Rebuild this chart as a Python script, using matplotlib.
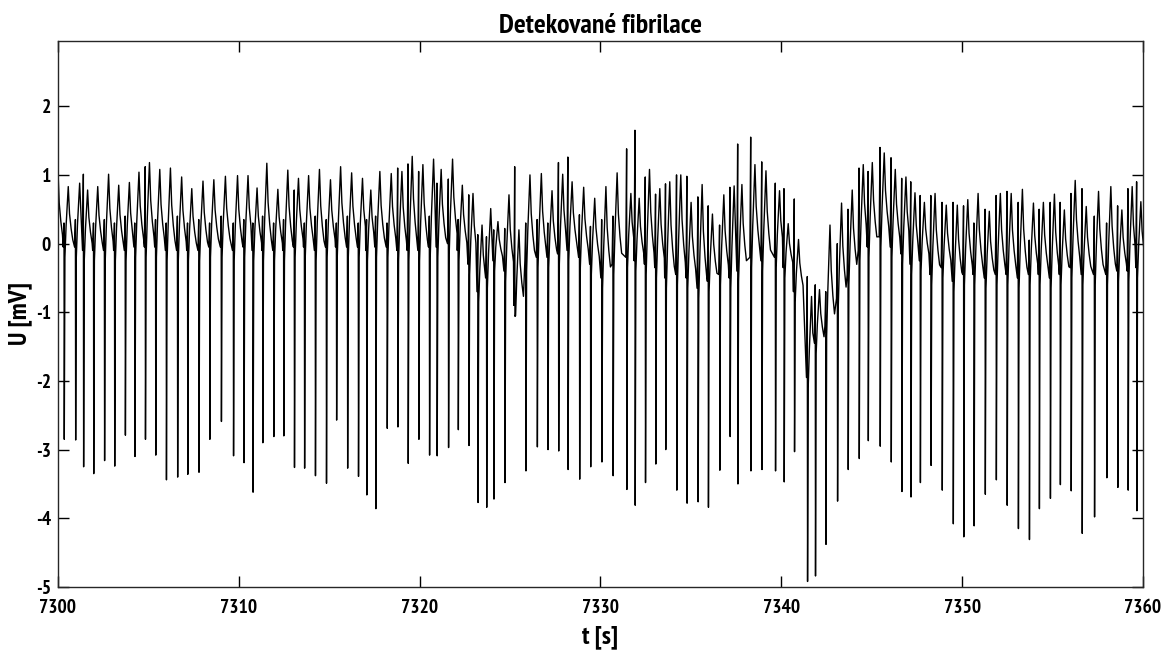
import numpy as np
import matplotlib
matplotlib.use("Agg")
import matplotlib.pyplot as plt
from matplotlib import font_manager as fm


def _is_bold(f):
    w = f.weight
    if isinstance(w, (int, float)):
        return w >= 600
    return str(w).lower() in ("bold", "semibold", "demibold", "heavy", "black",
                              "extra bold", "ultrabold")


def _is_narrow(f):
    return ("Narrow" in f.name or "Condensed" in f.name
            or str(f.stretch) in ("condensed", "semi-condensed", "extra-condensed"))


# MATLAB export uses a narrow bold face; take one if the machine has it
_cands = [f for f in fm.fontManager.ttflist if _is_narrow(f) and _is_bold(f)]
_cands.sort(key=lambda f: (0 if "Narrow" in f.name else 1, f.name))
if _cands:
    plt.rcParams["font.family"] = [_cands[0].name, "Liberation Sans", "DejaVu Sans"]
    FS_TICK, FS_TITLE, FS_LABEL = 14, 20, 18.5
else:
    plt.rcParams["font.family"] = ["Liberation Sans", "DejaVu Sans"]
    FS_TICK, FS_TITLE, FS_LABEL = 12.5, 15, 15.5
plt.rcParams["axes.unicode_minus"] = False

T0 = 7300.0

# beat data (one entry per QRS complex)
# time of S trough [s after 7300]
beat_t = [-0.22, 0.35, 0.98, 1.42, 1.98, 2.58, 3.14, 3.73, 4.26, 4.84,
          5.41, 6.00, 6.62, 7.18, 7.80, 8.40, 9.04, 9.71, 10.29, 10.79,
          11.33, 11.94, 12.49, 13.08, 13.64, 14.24, 14.85, 15.41, 16.02, 16.62,
          17.08, 17.58, 18.21, 18.80, 19.37, 19.96, 20.55, 20.97, 21.60, 22.14,
          22.73, 23.23, 23.71, 24.11, 24.72, 25.27, 25.88, 26.51, 27.10, 27.69,
          28.21, 28.85, 29.46, 30.08, 30.70, 31.46, 31.92, 32.49, 33.06, 33.61,
          34.22, 34.79, 35.40, 35.97, 36.60, 37.17, 37.60, 38.32, 38.93, 39.68,
          40.16, 40.73, 41.45, 41.89, 42.47, 43.11, 43.70, 44.31, 44.81, 45.47,
          46.08, 46.67, 47.17, 47.69, 48.28, 48.90, 49.51, 50.09, 50.66, 51.28,
          51.89, 52.49, 53.11, 53.72, 54.27, 54.88, 55.43, 56.03, 56.64, 57.32,
          58.00, 58.61, 59.18, 59.66]
# S trough [mV]
s_val = [-2.90, -2.85, -2.86, -3.25, -3.35, -3.16, -3.24, -2.79, -3.10, -2.85,
         -3.08, -3.44, -3.40, -3.36, -3.33, -2.85, -2.59, -3.09, -3.19, -3.62,
         -2.90, -2.81, -2.80, -3.26, -3.27, -3.38, -3.49, -2.57, -3.27, -3.39,
         -3.66, -3.86, -2.69, -2.67, -3.20, -2.85, -3.08, -3.09, -2.97, -2.71,
         -2.94, -3.77, -3.84, -3.72, -3.48, -1.06, -3.31, -2.96, -3.00, -3.02,
         -3.29, -3.43, -3.25, -3.18, -3.38, -3.58, -3.81, -3.48, -3.21, -3.00,
         -3.59, -3.78, -3.76, -3.84, -3.30, -2.81, -3.50, -3.31, -3.29, -3.31,
         -3.47, -3.03, -4.92, -4.84, -4.38, -3.75, -3.29, -3.13, -2.87, -2.95,
         -3.18, -3.61, -3.69, -3.48, -3.23, -3.59, -4.08, -4.27, -4.11, -3.65,
         -3.44, -3.81, -4.15, -4.31, -3.86, -3.71, -3.51, -3.60, -4.22, -3.98,
         -3.41, -3.55, -3.59, -3.89]
# wave peak following the complex [mV]
hump = [1.07, 0.83, 0.88, 0.78, 0.83, 1.01, 0.85, 0.89, 1.04, 1.18,
        1.08, 1.10, 0.97, 0.80, 0.91, 0.93, 0.98, 0.99, 0.99, 0.81,
        1.17, 0.79, 1.07, 0.95, 0.99, 1.08, 0.93, 1.12, 1.03, 0.95,
        0.78, 1.05, 1.02, 1.05, 1.27, 1.15, 1.23, 1.08, 1.23, 0.85,
        0.73, 0.27, 0.51, 0.32, 0.71, 0.20, 1.00, 1.02, 0.77, 1.01,
        0.90, 0.82, 0.66, 0.83, 1.03, 0.73, 0.66, 1.08, 0.80, 0.90,
        1.00, 0.60, 0.86, 0.43, 0.71, 0.84, 0.86, 1.15, 1.06, 0.77,
        0.29, 0.06, -0.77, -0.67, 0.27, 0.59, 0.78, 1.15, 1.18, 1.32,
        1.08, 0.97, 0.74, 0.60, 0.73, 0.56, 0.56, 0.64, 0.73, 0.47,
        0.73, 0.73, 0.79, 0.59, 0.60, 0.72, 0.49, 0.92, 0.54, 0.76,
        0.83, 0.49, 0.83, 0.61]
# baseline just before the complex [mV]
base = [0.00, -0.05, -0.05, -0.10, -0.10, -0.10, -0.10, -0.10, -0.05, -0.05,
        -0.05, -0.10, -0.10, -0.10, -0.10, -0.05, -0.05, -0.10, -0.05, -0.10,
        -0.10, -0.10, -0.10, -0.05, -0.05, -0.10, -0.05, -0.05, -0.05, -0.05,
        -0.10, -0.05, -0.05, -0.10, -0.10, -0.10, -0.05, -0.05, 0.00, -0.10,
        -0.30, -0.70, -0.50, -0.25, -0.40, -0.90, -0.25, -0.20, -0.20, -0.15,
        -0.10, -0.20, -0.30, -0.50, -0.30, -0.20, -0.25, -0.30, -0.35, -0.50,
        -0.45, -0.50, -0.65, -0.55, -0.45, -0.50, -0.40, -0.20, -0.25, -0.20,
        -0.35, -0.70, -1.95, -1.45, -1.20, -0.80, -0.45, -0.10, -0.05, 0.10,
        -0.05, -0.15, -0.30, -0.25, -0.45, -0.35, -0.55, -0.45, -0.45, -0.50,
        -0.45, -0.45, -0.50, -0.45, -0.45, -0.50, -0.45, -0.35, -0.45, -0.45,
        -0.45, -0.40, -0.40, -0.35]
# R spike right before the S trough [mV]
r_val = [0.30, 0.30, 0.35, 1.01, 0.30, 0.35, 0.30, 0.40, 0.30, 1.12,
         0.35, 0.30, 0.40, 0.30, 0.35, 0.30, 0.40, 0.30, 0.35, 0.30,
         0.40, 0.30, 0.35, 0.78, 0.30, 0.40, 0.35, 0.30, 0.40, 0.30,
         0.35, 0.40, 0.30, 1.10, 1.16, 1.05, 0.40, 0.88, 0.94, 0.35,
         0.71, 0.13, 0.10, 0.20, 0.22, 1.12, 0.30, 0.35, 0.30, 1.18,
         1.26, 0.42, 0.25, 0.35, 0.40, 1.38, 1.65, 0.97, 0.72, 0.87,
         1.00, 0.98, 0.68, 0.55, 0.27, 0.82, 1.45, 1.55, 1.19, 0.88,
         0.80, 0.65, -0.48, -0.60, -0.70, 0.00, 0.50, 1.10, 1.05, 1.40,
         1.25, 0.95, 0.90, 0.70, 0.70, 0.60, 0.60, 0.55, 0.30, 0.50,
         0.70, 0.76, 0.60, 0.05, 0.50, 0.60, 0.60, 0.73, 0.80, 0.40,
         0.30, 0.55, 0.80, 0.90]

# ── build the trace beat by beat ────────────────────────────────────────────
t_sig, u_sig = [], []
n = len(beat_t)
for i in range(n):
    t0 = T0 + beat_t[i]
    b, h = base[i], hump[i]
    t_end = T0 + beat_t[i + 1] - 0.06 if i + 1 < n else T0 + 60.5
    pts = [(t0 - 0.06, b), (t0 - 0.015, r_val[i]), (t0, s_val[i]),
           (t0 + 0.035, b - 0.15), (t0 + 0.10, b + 0.35 * (h - b)),
           (t0 + 0.22, h), (t0 + 0.29, b + 0.55 * (h - b)),
           (t0 + 0.38, b + 0.3 * (h - b)), (t0 + 0.47, b + 0.12 * (h - b))]
    for tt, uu in pts:
        if tt < t_end:
            t_sig.append(tt)
            u_sig.append(uu)

# ── figure ──────────────────────────────────────────────────────────────────
fig = plt.figure(figsize=(11.66, 6.59), dpi=100)
ax = fig.add_axes([0.0497, 0.1093, 0.9306, 0.8285])

ax.plot(t_sig, u_sig, color="black", linewidth=1.0)

ax.set_xlim(7300, 7360)
ax.set_ylim(-5, 2.95)
ax.set_xticks(np.arange(7300, 7361, 10))
ax.set_yticks(np.arange(-5, 3, 1))
ax.tick_params(direction="in", length=8, width=1, top=True, right=True,
               labelsize=FS_TICK)
ax.tick_params(axis="x", pad=9)
ax.tick_params(axis="y", pad=5)
for lbl in ax.get_xticklabels() + ax.get_yticklabels():
    lbl.set_fontweight("bold")
for sp in ax.spines.values():
    sp.set_linewidth(1)
    sp.set_color("#262626")

ax.set_title("Detekované fibrilace", fontsize=FS_TITLE, fontweight="bold", pad=6)
ax.set_xlabel("t [s]", fontsize=FS_LABEL, fontweight="bold", labelpad=6)
ax.set_ylabel("U [mV]", fontsize=FS_LABEL, fontweight="bold", labelpad=3)

fig.savefig("out.png", dpi=100)
